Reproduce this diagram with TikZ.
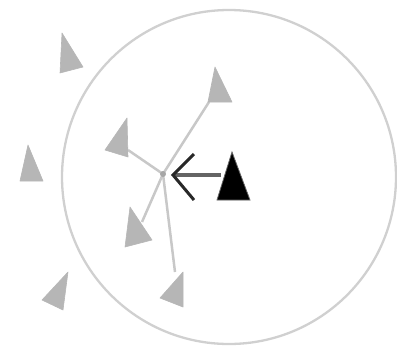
\documentclass[tikz,border=0pt]{standalone}
\definecolor{boidgray}{RGB}{182,182,182}
\definecolor{ringgray}{RGB}{208,208,208}
\definecolor{linkgray}{RGB}{200,200,200}
\definecolor{arrowgray}{RGB}{100,100,100}
\definecolor{headgray}{RGB}{40,40,40}
\tikzset{
  boid/.style={fill=boidgray, draw=boidgray, line width=0.6pt, line join=round},
  me/.style={fill=black, draw=arrowgray, line width=0.8pt},
  link/.style={draw=linkgray, line width=2.5pt},
  ring/.style={draw=ringgray, line width=2.3pt},
  shaft/.style={draw=arrowgray, line width=3.6pt},
  chevron/.style={draw=headgray, line width=3pt, line join=miter}
}
\begin{document}
\begin{tikzpicture}[x=1pt,y=-1pt]
\useasboundingbox (0,0) rectangle (397,349);
\draw[ring] (229,177) circle (167);
% centre of mass
\coordinate (c) at (163,174);
% neighbour ends
\coordinate (n4) at (128,150);
\coordinate (n5) at (209,102);
\coordinate (n6) at (142,222);
\coordinate (n7) at (175,272);
\draw[link] (c) -- (n4);
\draw[link] (c) -- (n5);
\draw[link] (c) -- (n6);
\draw[link] (c) -- (n7);
\fill[boidgray!70!gray] (c) circle (3);
% outside boids
\path[boid] (62,33) -- (83,67) -- (60,73) -- cycle;
\path[boid] (28,145) -- (43,181) -- (20,181) -- cycle;
\path[boid] (68,272) -- (63,310) -- (42,300) -- cycle;
% inside boids
\path[boid] (127,118) -- (128,157) -- (105,150) -- cycle;
\path[boid] (215,67) -- (232,102) -- (208,102) -- cycle;
\path[boid] (130,207) -- (152,240) -- (125,247) -- cycle;
\path[boid] (183,272) -- (183,307) -- (160,298) -- cycle;
% the boid itself
\coordinate (m) at (221,175);
\coordinate (tip) at (173,175);
\path[me] (232,152) -- (250,200) -- (217,200) -- cycle;
\draw[shaft] (m) -- (tip);
\draw[chevron] (194,154) -- (tip) -- (194,200);
\end{tikzpicture}
\end{document}
